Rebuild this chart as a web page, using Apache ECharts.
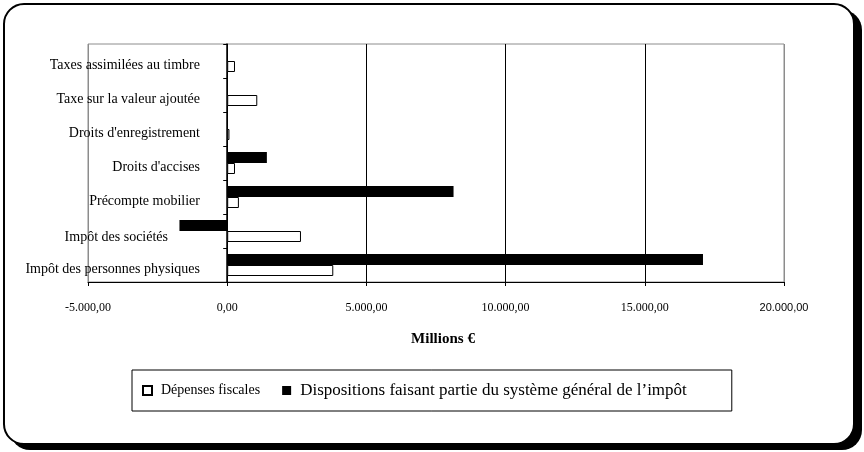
<!DOCTYPE html>
<html>
<head>
<meta charset="utf-8">
<script src="https://cdn.jsdelivr.net/npm/echarts@6/dist/echarts.min.js"></script>
<style>
  html, body { margin: 0; padding: 0; background: #ffffff; }
  #chart { width: 864px; height: 452px; }
</style>
</head>
<body>
<div id="chart"></div>
<script>
// Categories listed bottom to top (category axis starts at the bottom)
const categories = [
  'Impôt des personnes physiques',
  'Impôt des sociétés',
  'Précompte mobilier',
  "Droits d'accises",
  "Droits d'enregistrement",
  'Taxe sur la valeur ajoutée',
  'Taxes assimilées au timbre'
];
const depensesFiscales = [3810, 2650, 420, 280, 80, 1080, 280];
const dispositionsGenerales = [17090, -1715, 8130, 1425, 0, 0, 0];
const seriesNames = ['Dépenses fiscales', 'Dispositions faisant partie du système général de l’impôt'];
const axisTitle = 'Millions €';
const xMin = -5000, xMax = 20000, xStep = 5000;

function fmt(v) {
  const neg = v < 0;
  const a = Math.abs(v);
  const s = String(Math.round(a)).replace(/\B(?=(\d{3})+(?!\d))/g, '.');
  return (neg ? '-' : '') + s + ',00';
}

const FONT = 'Liberation Serif';
const chart = echarts.init(document.getElementById('chart'), null, { renderer: 'canvas' });

chart.setOption({
  backgroundColor: 'transparent',
  animation: false,
  textStyle: { fontFamily: FONT, color: '#000' },
  graphic: [
    { type: 'rect', z: -20, shape: { x: 10, y: 10, width: 852, height: 440, r: 20 }, style: { fill: '#000' } },
    { type: 'rect', z: -19, shape: { x: 4, y: 4, width: 850, height: 440, r: 20 }, style: { fill: '#fff', stroke: '#000', lineWidth: 2 } }
  ],
  grid: {
    left: 88, right: 80, top: 44, bottom: 170,
    containLabel: false,
    outerBoundsMode: 'none',
    show: true, borderColor: '#8c8c8c', borderWidth: 1, backgroundColor: 'transparent'
  },
  legend: {
    data: seriesNames,
    left: 132, top: 370,
    orient: 'horizontal',
    padding: [12, 45, 12, 10],
    itemGap: 22,
    itemWidth: 9, itemHeight: 9,
    borderColor: '#000', borderWidth: 1,
    textStyle: {
      fontFamily: FONT, fontSize: 14, color: '#000', padding: [0, 0, 0, 4],
      rich: { b: { fontFamily: FONT, fontSize: 17, color: '#000' } }
    },
    formatter: function (name) {
      return name === seriesNames[1] ? '{b|' + name + '}' : name;
    },
    icon: 'rect'
  },
  xAxis: {
    type: 'value',
    min: xMin, max: xMax, interval: xStep,
    name: axisTitle,
    nameLocation: 'middle',
    nameGap: 50,
    nameTextStyle: { fontFamily: FONT, fontSize: 15, fontWeight: 'bold', color: '#000', padding: [0, 0, 0, 14] },
    axisLine: { show: true, onZero: false, lineStyle: { color: '#000', width: 1 } },
    axisTick: { show: true, length: 4, lineStyle: { color: '#000' } },
    axisLabel: {
      margin: 20,
      fontFamily: FONT, fontSize: 12, color: '#000',
      formatter: function (v) { return v === xMax ? '{s|' + fmt(v) + '}' : fmt(v); },
      rich: { s: { fontFamily: 'Liberation Sans', fontSize: 11, color: '#000' } }
    },
    splitLine: { show: true, lineStyle: { color: ['#8c8c8c', '#000', '#000', '#000', '#000', '#8c8c8c'], width: 1 } }
  },
  yAxis: {
    type: 'category',
    data: categories,
    axisLine: { show: true, onZero: true, lineStyle: { color: '#000', width: 1.5 } },
    axisTick: { show: true, length: 4, inside: false, lineStyle: { color: '#000' } },
    axisLabel: {
      margin: -112, fontFamily: FONT, fontSize: 14, color: '#000',
      padding: [8, 0, 0, 0],
      formatter: function (v) { return v === categories[1] ? '{n|' + v + '}' : v; },
      rich: { n: { fontFamily: FONT, fontSize: 14, color: '#000', padding: [4, 32, 0, 0] } }
    },
    splitLine: { show: false }
  },
  series: [
    {
      name: seriesNames[1],
      type: 'bar',
      data: dispositionsGenerales,
      barWidth: 11,
      barGap: '0%',
      itemStyle: { color: '#000', borderColor: '#000', borderWidth: 0 }
    },
    {
      name: seriesNames[0],
      type: 'bar',
      data: depensesFiscales,
      barWidth: 11,
      barGap: '0%',
      itemStyle: { color: '#fff', borderColor: '#000', borderWidth: 1 }
    }
  ]
});
</script>
</body>
</html>
